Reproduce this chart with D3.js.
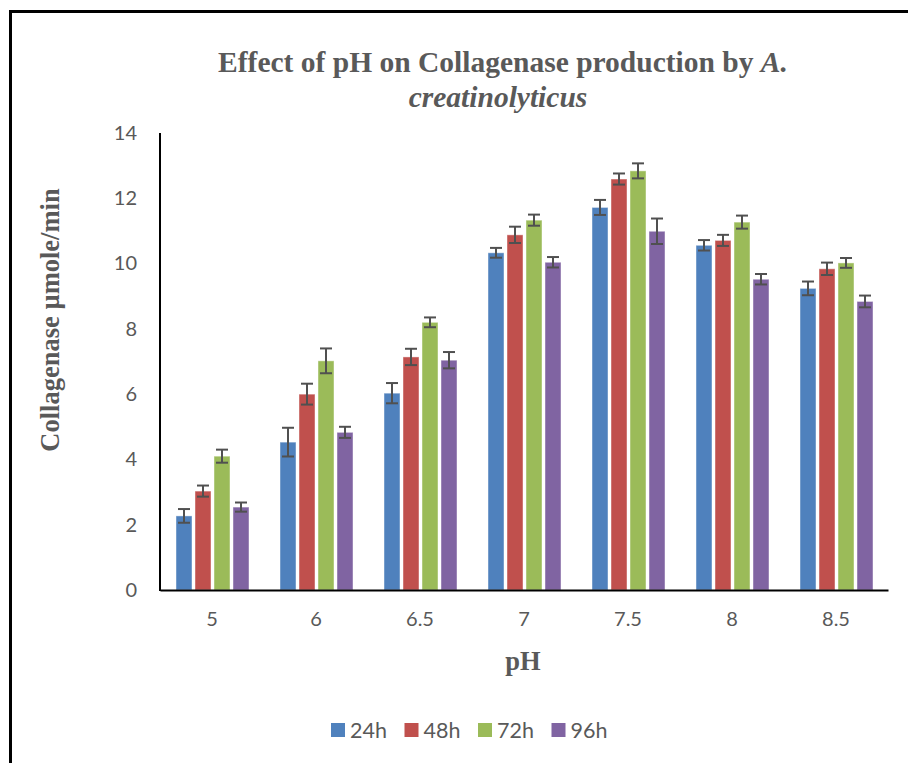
<!DOCTYPE html>
<html><head><meta charset="utf-8">
<script src="https://cdn.jsdelivr.net/npm/d3@7"></script>
<style>body{margin:0;background:#fff}svg{display:block}</style>
</head><body><svg id="c" width="908" height="763"></svg>
<script>
const categories = ["5","6","6.5","7","7.5","8","8.5"];
const seriesNames = ["24h","48h","72h","96h"];
const v24 = [2.27, 4.53, 6.03, 10.33, 11.72, 10.56, 9.24];
const v48 = [3.03, 6.00, 7.14, 10.88, 12.59, 10.71, 9.84];
const v72 = [4.10, 7.02, 8.20, 11.33, 12.84, 11.27, 10.02];
const v96 = [2.54, 4.83, 7.04, 10.04, 10.99, 9.52, 8.84];
const e24 = [0.21, 0.44, 0.31, 0.15, 0.23, 0.16, 0.21];
const e48 = [0.17, 0.32, 0.25, 0.25, 0.17, 0.17, 0.19];
const e72 = [0.20, 0.38, 0.15, 0.17, 0.23, 0.20, 0.15];
const e96 = [0.14, 0.17, 0.25, 0.16, 0.39, 0.16, 0.18];
const yTicks = [0,2,4,6,8,10,12,14];
const colors = ["#4F81BD","#C0504D","#9BBB59","#8064A2"];

const values = [v24, v48, v72, v96];
const errs = [e24, e48, e72, e96];
const svg = d3.select("#c");
const grey = "#595959";
const serif = "'Liberation Serif', 'Times New Roman', serif";
const sans = "Lato, 'Open Sans', sans-serif";

// frame
svg.append("rect").attr("x",10.5).attr("y",11.5).attr("width",910).attr("height",800)
  .attr("fill","none").attr("stroke","#000").attr("stroke-width",3);

const x0 = d3.scaleBand().domain(categories).range([160, 888]).paddingInner(0).paddingOuter(0);
const x1 = d3.scaleBand().domain(seriesNames).range([16, 89]).paddingInner(3/19).paddingOuter(0);
const y = d3.scaleLinear().domain([0, 14]).range([590, 133]);

// y tick labels
const yAxis = d3.axisLeft(y).tickValues(yTicks).tickSize(0).tickPadding(23);
const gy = svg.append("g").attr("transform","translate(160,0)").call(yAxis);
gy.select(".domain").remove();
gy.selectAll("text").attr("font-family",sans).attr("font-size","20px").attr("fill",grey);

// bars
const data = [];
categories.forEach((c, i) => seriesNames.forEach((s, j) => data.push({c, s, j, v: values[j][i], e: errs[j][i]})));
const g = svg.append("g");
g.selectAll("rect.bar").data(data).join("rect").attr("class","bar")
  .attr("x", d => x0(d.c) + x1(d.s))
  .attr("y", d => y(d.v))
  .attr("width", x1.bandwidth())
  .attr("height", d => y(0) - y(d.v))
  .attr("fill", d => colors[d.j])
  .attr("stroke", "rgba(255,255,255,0.45)").attr("stroke-width", 1);

// error bars
const eg = svg.append("g").attr("stroke","#505050").attr("stroke-width",2).attr("fill","none");
data.forEach(d => {
  const cx = x0(d.c) + x1(d.s) + x1.bandwidth()/2;
  const yt = y(d.v + d.e), yb = y(d.v - d.e);
  eg.append("line").attr("x1",cx).attr("x2",cx).attr("y1",yt).attr("y2",yb);
  eg.append("line").attr("x1",cx-6).attr("x2",cx+6).attr("y1",yt).attr("y2",yt);
  eg.append("line").attr("x1",cx-6).attr("x2",cx+6).attr("y1",yb).attr("y2",yb);
});

// axes lines
svg.append("line").attr("x1",160).attr("x2",160).attr("y1",133).attr("y2",591).attr("stroke","#000").attr("stroke-width",2);
const xAxis = d3.axisBottom(x0).tickSize(0).tickPadding(22);
const gx = svg.append("g").attr("transform","translate(0,590)").call(xAxis);
gx.select(".domain").attr("stroke","#000").attr("stroke-width",2);
gx.selectAll("text").attr("font-family",sans).attr("font-size","20px").attr("fill",grey);

// title
const t = svg.append("text").attr("x",503).attr("y",72).attr("text-anchor","middle")
  .attr("font-family",serif).attr("font-size","29.5px")
  .attr("font-weight","bold").attr("fill",grey);
t.append("tspan").text("Effect of pH on Collagenase production by ");
t.append("tspan").attr("font-style","italic").text("A.");
svg.append("text").attr("x",498).attr("y",107).attr("text-anchor","middle")
  .attr("font-family",serif).attr("font-size","29.5px")
  .attr("font-weight","bold").attr("font-style","italic").attr("fill",grey).text("creatinolyticus");

// axis titles
svg.append("text").attr("transform","translate(59,320) rotate(-90)").attr("text-anchor","middle")
  .attr("font-family",serif).attr("font-size","26.5px")
  .attr("font-weight","bold").attr("fill",grey).text("Collagenase µmole/min");
svg.append("text").attr("x",523).attr("y",670).attr("text-anchor","middle")
  .attr("font-family",serif).attr("font-size","26.5px")
  .attr("font-weight","bold").attr("fill",grey).text("pH");

// legend
const lg = svg.append("g");
seriesNames.forEach((s, j) => {
  const lx = 331 + j * 73.5;
  lg.append("rect").attr("x", lx).attr("y", 723).attr("width", 14).attr("height", 14).attr("fill", colors[j]);
  lg.append("text").attr("x", lx + 19).attr("y", 738).attr("font-family",sans)
    .attr("font-size","21.5px").attr("fill",grey).text(s);
});
</script></body></html>
